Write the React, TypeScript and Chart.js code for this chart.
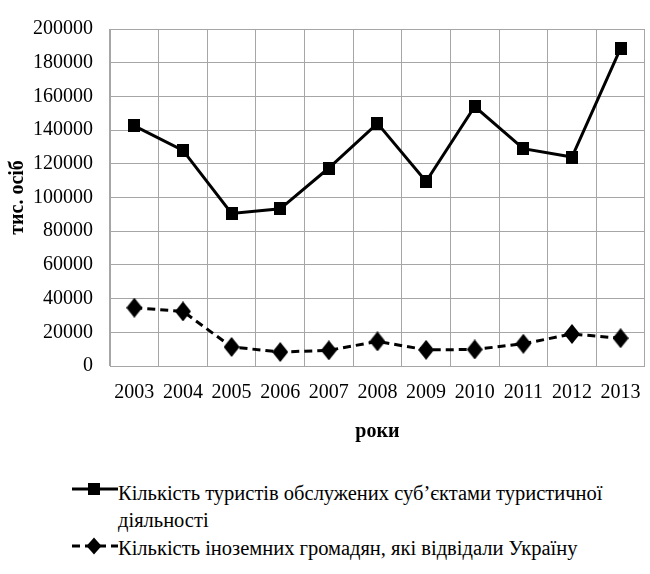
import React, { useEffect, useRef } from "react";
import { Chart, registerables } from "chart.js";

Chart.register(...registerables);

const years = ["2003", "2004", "2005", "2006", "2007", "2008", "2009", "2010", "2011", "2012", "2013"];
const touristsServed = [142500, 128000, 90500, 93300, 117500, 144000, 109500, 154000, 129000, 124000, 188500];
const foreignVisitors = [34600, 32400, 11300, 8300, 9300, 14600, 9600, 9800, 13200, 19000, 16500];
const yMin = 0;
const yMax = 200000;
const yStep = 20000;
const yTitle = "тис. осіб";
const xTitle = "роки";
const legendLabels = [
  "Кількість туристів обслужених суб’єктами туристичної діяльності",
  "Кількість іноземних громадян, які відвідали Україну",
];

const FONT = "'Liberation Serif', 'Times New Roman', serif";
const GRID = "#a6a6a6";

function makeSquare(w: number, h: number) {
  const c = document.createElement("canvas");
  c.width = w;
  c.height = h;
  const g = c.getContext("2d")!;
  g.fillStyle = "#000";
  g.fillRect(0, 0, w, h);
  return c;
}

function makeDiamond(w: number, h: number) {
  const c = document.createElement("canvas");
  c.width = w;
  c.height = h;
  const g = c.getContext("2d")!;
  g.fillStyle = "#000";
  g.beginPath();
  g.moveTo(w / 2, 0);
  g.lineTo(w, h / 2);
  g.lineTo(w / 2, h);
  g.lineTo(0, h / 2);
  g.closePath();
  g.fill();
  return c;
}

export default function App() {
  const ref = useRef<HTMLCanvasElement>(null);

  useEffect(() => {
    const sq = makeSquare(12, 13);
    const dm = makeDiamond(16, 20);
    const chart = new Chart(ref.current!, {
      type: "line",
      data: {
        labels: years,
        datasets: [
          {
            label: legendLabels[0],
            data: touristsServed,
            borderColor: "#000",
            backgroundColor: "#000",
            borderWidth: 3,
            pointStyle: sq as any,
            pointRadius: 6,
            pointHoverRadius: 6,
            tension: 0,
          },
          {
            label: legendLabels[1],
            data: foreignVisitors,
            borderColor: "#000",
            backgroundColor: "#000",
            borderWidth: 3,
            borderDash: [8, 5],
            pointStyle: dm as any,
            pointRadius: 6,
            pointHoverRadius: 6,
            tension: 0,
          },
        ],
      },
      options: {
        responsive: false,
        animation: false,
        layout: { padding: { top: 23, left: 0, right: 3, bottom: 4 } },
        plugins: { legend: { display: false }, tooltip: { enabled: false } },
        scales: {
          x: {
            offset: true,
            grid: { offset: true, color: GRID, drawTicks: false, lineWidth: 1 },
            border: { color: GRID },
            ticks: {
              color: "#000",
              font: { family: FONT, size: 20 },
              padding: 15,
              maxRotation: 0,
              autoSkip: false,
            },
            title: {
              display: true,
              text: xTitle,
              color: "#000",
              font: { family: FONT, size: 20, weight: "bold" },
              padding: { top: 15, bottom: 2 },
            },
            afterFit: (s: any) => {
              s.height = 80;
            },
          },
          y: {
            min: yMin,
            max: yMax,
            grid: { color: GRID, drawTicks: false, lineWidth: 1 },
            border: { color: GRID },
            ticks: {
              stepSize: yStep,
              color: "#000",
              font: { family: FONT, size: 20 },
              padding: 17,
              callback: (v: any) => String(v),
            },
            title: {
              display: true,
              text: yTitle,
              color: "#000",
              font: { family: FONT, size: 20, weight: "bold" },
              padding: { top: 6, bottom: 3 },
            },
            afterFit: (s: any) => {
              s.width = 110;
            },
          },
        },
      },
    });
    return () => chart.destroy();
  }, []);

  const textStyle: React.CSSProperties = {
    position: "absolute",
    left: 118,
    fontFamily: FONT,
    fontSize: 20.5,
    lineHeight: "27px",
    color: "#000",
    whiteSpace: "nowrap",
  };
  const firstWords = legendLabels[0].split(" ");
  const line1 = firstWords.slice(0, -1).join(" ");
  const line2 = firstWords[firstWords.length - 1];

  return (
    <div
      style={{
        position: "absolute",
        left: 0,
        top: 0,
        width: 650,
        height: 574,
        overflow: "hidden",
        background: "#fff",
      }}
    >
      <canvas ref={ref} width={656} height={450} style={{ display: "block" }} />
      <svg style={{ position: "absolute", left: 72, top: 479 }} width={46} height={20}>
        <line x1={0} y1={10} x2={46} y2={10} stroke="#000" strokeWidth={3} />
        <rect x={16} y={4} width={12} height={12} fill="#000" />
      </svg>
      <div style={{ ...textStyle, top: 480 }}>
        {line1}
        <br />
        {line2}
      </div>
      <svg style={{ position: "absolute", left: 72, top: 536 }} width={46} height={20}>
        <line x1={0} y1={10} x2={46} y2={10} stroke="#000" strokeWidth={3} strokeDasharray="8 5" />
        <polygon points="22,1.5 29.5,10 22,18.5 14.5,10" fill="#000" />
      </svg>
      <div style={{ ...textStyle, top: 535 }}>{legendLabels[1]}</div>
    </div>
  );
}
